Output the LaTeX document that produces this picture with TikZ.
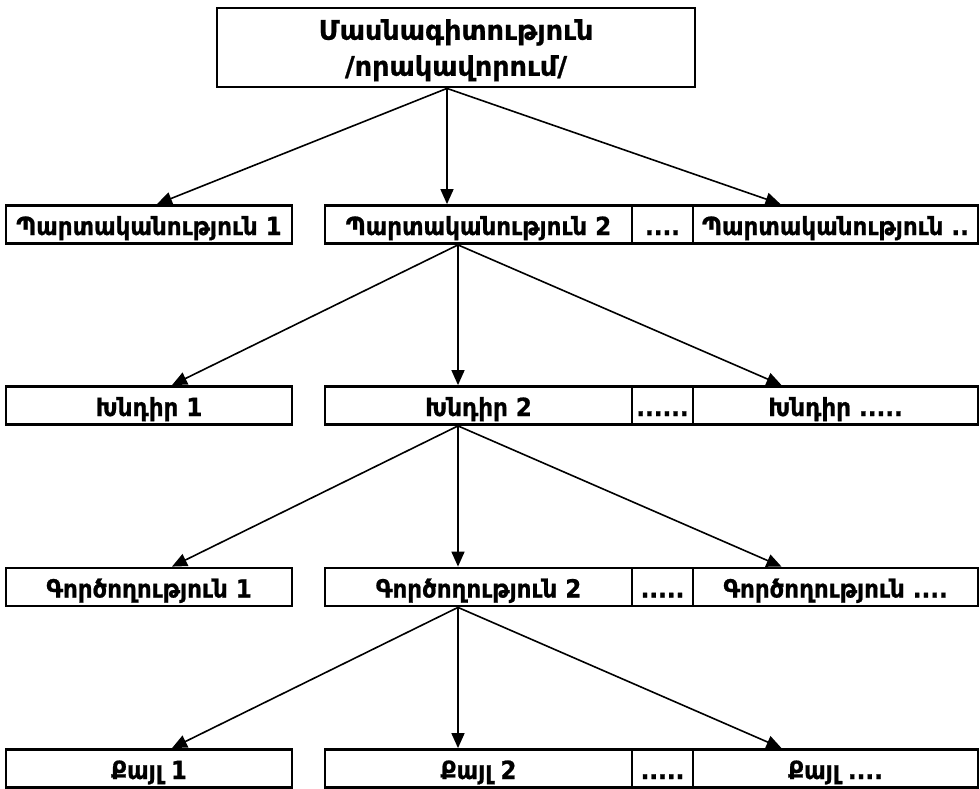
\documentclass[tikz,border=0pt]{standalone}
\usepackage{fontspec}
\setmainfont{DejaVu Sans}[FakeBold=0.8]
\newfontfamily\armfont{DejaVu Sans}[FakeStretch=0.92,FakeBold=0.8]
\usetikzlibrary{arrows.meta}

\begin{document}
\begin{tikzpicture}[x=1pt,y=-1pt,
    font=\armfont\fontsize{25}{28}\selectfont\bfseries,
    box/.style={draw,line width=2.8pt,inner sep=0pt,minimum height=38pt,
                text height=21pt,text depth=0pt},
    arr/.style={-{Triangle[length=15pt,width=13pt]},line width=1.6pt}]
  \useasboundingbox (0,0) rectangle (980,788);
  % top box
  \node[box,minimum width=478pt,minimum height=79pt,align=center,
        text height=,text depth=0pt,
        font=\fontsize{27}{36}\selectfont\bfseries] (top) at (456,47.5)
    {Մասնագիտություն\\/որակավորում/};
  % rows of boxes
  \foreach \row/\y/\ta/\tb/\tc/\td in {
      1/224.5/{Պարտականություն 1}/{Պարտականություն 2}/{....}/{Պարտականություն ..},
      2/405.5/{Խնդիր 1}/{Խնդիր 2}/{......}/{Խնդիր .....},
      3/587/{Գործողություն 1}/{Գործողություն 2}/{.....}/{Գործողություն ....},
      4/768.5/{Քայլ 1}/{Քայլ 2}/{.....}/{Քայլ ....}}
  {
    \node[box,minimum width=286pt] (r\row-a) at (149,\y) {\ta};
    \node[box,minimum width=307pt] (r\row-b) at (478.5,\y) {\tb};
    \node[box,minimum width=61pt] (r\row-c) at (662.5,\y) {\tc};
    \node[box,minimum width=285pt] (r\row-d) at (835.5,\y) {\td};
  }
  % arrows
  \coordinate (j0) at ([xshift=-9pt]top.south);
  \draw[arr] (j0) -- ([xshift=8pt]r1-a.north);
  \draw[arr] (j0) -- ([xshift=-31.5pt]r1-b.north);
  \draw[arr] (j0) -- ([xshift=-55pt]r1-d.north);
  \foreach \row/\nxt in {1/2,2/3,3/4}
  {
    \coordinate (j\row) at ([xshift=-20.5pt]r\row-b.south);
    \draw[arr] (j\row) -- ([xshift=23pt]r\nxt-a.north);
    \draw[arr] (j\row) -- ([xshift=-20.5pt]r\nxt-b.north);
    \draw[arr] (j\row) -- ([xshift=-54pt]r\nxt-d.north);
  }
\end{tikzpicture}
\end{document}
